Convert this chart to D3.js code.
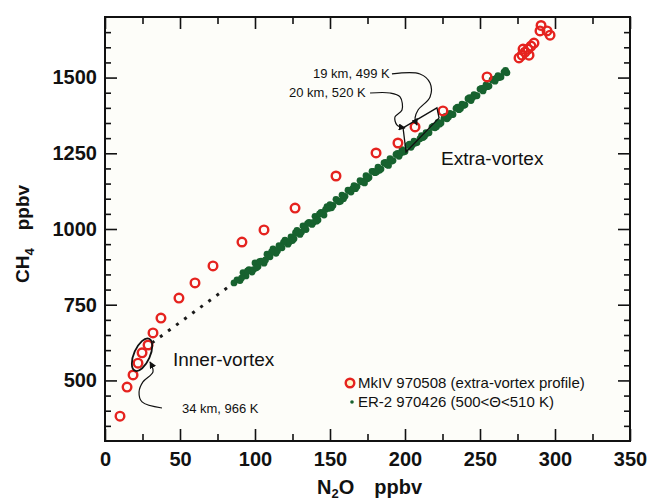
<!DOCTYPE html>
<html>
<head>
<meta charset="utf-8">
<script src="https://cdn.jsdelivr.net/npm/d3@7"></script>
<style>
  body { margin: 0; background: #fff; }
  text { font-family: "Liberation Sans", Arial, sans-serif; fill: #111; }
</style>
</head>
<body>
<div id="chart"></div>
<script>
// ---------------- data ----------------
// MkIV 970508 balloon profile [N2O, CH4] (ppbv)
const mkivN2O = [10, 14.7, 18.7, 22, 24.7, 28.7, 32, 37.3, 49.3, 60, 72, 91.3, 106, 126.7, 154, 180.7,
  195.3, 206.7, 225.3, 254.7, 276, 278, 280, 282, 284, 286, 278.7, 282.7, 290, 294.7, 296.7, 290.7];
const mkivCH4 = [382, 478, 518, 557, 591, 617, 657, 706, 772, 822, 878, 957, 997, 1069, 1175, 1251,
  1284, 1337, 1390, 1502, 1565, 1574, 1584, 1594, 1604, 1614, 1594, 1574, 1654, 1654, 1640, 1672];

// ER-2 970426, 500 < theta < 510 K
const er2N2O = [86, 88, 90, 92, 94, 96, 98, 100, 102, 104, 106, 108, 110, 112, 114, 116, 118, 120,
  122, 124, 126, 128, 130, 132, 134, 136, 138, 140, 142, 144, 146, 148, 150, 152, 154, 156, 158,
  160, 162, 164, 166, 168, 170, 172, 174, 176, 178, 180, 182, 184, 186, 188, 190, 192, 194, 196,
  198, 200, 202, 204, 206, 208, 210, 212, 214, 216, 218, 220, 222, 224, 226, 228, 230, 232, 234,
  236, 238, 240, 242, 244, 246, 248, 250, 252, 254, 256, 258, 260, 262, 264, 266, 268,
  91, 95, 99, 103, 107, 111, 115, 119, 123, 127, 131, 135, 139, 143, 147, 151, 155, 159, 163,
  167, 171, 175, 179, 183, 187, 191, 195, 199, 203, 207, 211, 215, 219, 223, 227, 231, 235, 239,
  243, 247, 251, 255, 259, 263, 267,
  101, 109, 117, 125, 133, 141, 149, 157, 165, 173, 181, 189, 197, 205, 213, 221, 229, 237, 245,
  253, 261];
const er2CH4 = [822, 832, 830, 856, 845, 866, 858, 888, 876, 894, 887, 917, 908, 934, 920, 945, 938, 963,
  950, 974, 968, 995, 982, 1010, 998, 1022, 1015, 1042, 1030, 1055, 1046, 1074, 1080, 1078, 1098, 1090, 1112,
  1108, 1128, 1122, 1143, 1140, 1160, 1158, 1176, 1170, 1190, 1186, 1204, 1198, 1218, 1212, 1232, 1226, 1246, 1240,
  1262, 1256, 1276, 1270, 1290, 1286, 1298, 1302, 1318, 1318, 1336, 1334, 1352, 1350, 1366, 1364, 1382, 1378, 1398,
  1394, 1412, 1410, 1430, 1424, 1444, 1440, 1462, 1456, 1476, 1472, 1492, 1488, 1506, 1502, 1518, 1516,
  838, 862, 866, 892, 898, 924, 928, 956, 958, 988, 990, 1018, 1022, 1050, 1064, 1070, 1094, 1100, 1126,
  1133, 1156, 1166, 1190, 1194, 1220, 1224, 1250, 1254, 1280, 1284, 1308, 1316, 1340, 1346, 1372, 1378, 1402, 1408,
  1434, 1440, 1464, 1470, 1494, 1500, 1524,
  872, 911, 942, 962, 1004, 1026, 1068, 1092, 1132, 1152, 1188, 1210, 1250, 1278, 1306, 1338, 1370, 1398, 1434,
  1466, 1498];

const xMajor = [0, 50, 100, 150, 200, 250, 300, 350];
const xMinor = [25, 75, 125, 175, 225, 275, 325];
const yMajor = [500, 750, 1000, 1250, 1500];
const yMinor = [350, 400, 450, 550, 600, 650, 700, 800, 850, 900, 950, 1050, 1100, 1150, 1200,
  1300, 1350, 1400, 1450, 1550, 1600, 1650];

const legendLabels = ["MkIV 970508 (extra-vortex profile)", "ER-2 970426 (500<\u0398<510 K)"];

// annotation geometry, in data units
const dottedN2O = [31.3, 85.3];
const dottedCH4 = [624, 820];
const innerCurve = [[30, 561], [32, 528], [25.3, 495], [22.7, 462], [24.7, 429], [38, 409]];
const arrow19 = [[191.3, 1512], [210, 1512], [216.7, 1482], [216.7, 1436], [208.7, 1393], [206.7, 1367], [208, 1343]];
const arrow20 = [[176.7, 1449], [190, 1449], [196.7, 1436], [198, 1393], [193.3, 1370], [194.7, 1343], [200, 1334]];
const boxCorners = [[198.7, 1334], [221.3, 1400], [222.7, 1367], [200.7, 1254]];

// ---------------- layout ----------------
const W = 652, H = 502;
const M = { left: 105, right: 22, top: 17, bottom: 61 };
const RED = "#e5231f", GREEN = "#17622f";

const x = d3.scaleLinear().domain([0, 350]).range([M.left, W - M.right]);
const y = d3.scaleLinear().domain([300, 1700]).range([H - M.bottom, M.top]);

const svg = d3.select("#chart").append("svg")
  .attr("width", W).attr("height", H);

const defs = svg.append("defs");
defs.append("marker")
  .attr("id", "head")
  .attr("viewBox", "0 0 10 10")
  .attr("refX", 9).attr("refY", 5)
  .attr("markerWidth", 7).attr("markerHeight", 7)
  .attr("markerUnits", "userSpaceOnUse")
  .attr("orient", "auto-start-reverse")
  .append("path").attr("d", "M0,0 L10,5 L0,10 Z").attr("fill", "#111");
defs.append("clipPath").attr("id", "plotclip")
  .append("rect")
  .attr("x", M.left).attr("y", M.top)
  .attr("width", W - M.left - M.right).attr("height", H - M.top - M.bottom);

svg.append("rect")
  .attr("x", M.left).attr("y", M.top)
  .attr("width", W - M.left - M.right).attr("height", H - M.top - M.bottom)
  .attr("fill", "#fdfdf9");

// ---------------- axes ----------------
function styleAxis(g) {
  g.select(".domain").remove();
  g.selectAll("line").attr("stroke", "#111").attr("stroke-width", 1.6);
  g.selectAll("text").attr("font-size", 20).attr("font-weight", "bold")
    .attr("fill", "#111").attr("font-family", "Liberation Sans, Arial, sans-serif");
}

svg.append("g").attr("transform", `translate(0,${y(300)})`)
  .call(d3.axisBottom(x).tickValues(xMajor).tickSize(-12).tickPadding(11).tickFormat(d3.format("d")))
  .call(styleAxis);
svg.append("g").attr("transform", `translate(0,${y(300)})`)
  .call(d3.axisBottom(x).tickValues(xMinor).tickSize(-7).tickFormat(""))
  .call(styleAxis);
svg.append("g").attr("transform", `translate(0,${y(1700)})`)
  .call(d3.axisTop(x).tickValues(xMajor).tickSize(-12).tickFormat(""))
  .call(styleAxis);
svg.append("g").attr("transform", `translate(0,${y(1700)})`)
  .call(d3.axisTop(x).tickValues(xMinor).tickSize(-7).tickFormat(""))
  .call(styleAxis);

svg.append("g").attr("transform", `translate(${x(0)},0)`)
  .call(d3.axisLeft(y).tickValues(yMajor).tickSize(-12).tickPadding(8).tickFormat(d3.format("d")))
  .call(styleAxis);
svg.append("g").attr("transform", `translate(${x(0)},0)`)
  .call(d3.axisLeft(y).tickValues(yMinor).tickSize(-6).tickFormat(""))
  .call(styleAxis);
svg.append("g").attr("transform", `translate(${x(350)},0)`)
  .call(d3.axisRight(y).tickValues(yMajor).tickSize(-12).tickFormat(""))
  .call(styleAxis);
svg.append("g").attr("transform", `translate(${x(350)},0)`)
  .call(d3.axisRight(y).tickValues(yMinor).tickSize(-6).tickFormat(""))
  .call(styleAxis);

// frame
svg.append("rect")
  .attr("x", M.left).attr("y", M.top)
  .attr("width", W - M.left - M.right).attr("height", H - M.top - M.bottom)
  .attr("fill", "none").attr("stroke", "#111").attr("stroke-width", 2);

// axis titles
const xt = svg.append("text")
  .attr("x", 317).attr("y", 494)
  .attr("font-size", 20).attr("font-weight", "bold");
xt.append("tspan").text("N");
xt.append("tspan").attr("font-size", 13).attr("dy", 4).text("2");
xt.append("tspan").attr("dy", -4).text("O");
xt.append("tspan").attr("dx", 20).text("ppbv");

const yt = svg.append("text")
  .attr("transform", "translate(29,283) rotate(-90)")
  .attr("font-size", 19).attr("font-weight", "bold");
yt.append("tspan").text("CH");
yt.append("tspan").attr("font-size", 13).attr("dy", 5).text("4");
yt.append("tspan").attr("dy", -5).attr("dx", 18).text("ppbv");

// ---------------- marks ----------------
const plot = svg.append("g").attr("clip-path", "url(#plotclip)");

// dotted link between inner-vortex and ER-2 band
plot.append("line")
  .attr("x1", x(dottedN2O[0])).attr("y1", y(dottedCH4[0]))
  .attr("x2", x(dottedN2O[1])).attr("y2", y(dottedCH4[1]))
  .attr("stroke", "#1a1a1a").attr("stroke-width", 3)
  .attr("stroke-dasharray", "3,7");

// ER-2 points
plot.append("g")
  .selectAll("circle")
  .data(d3.range(er2N2O.length))
  .join("circle")
  .attr("cx", i => x(er2N2O[i]))
  .attr("cy", i => y(er2CH4[i]))
  .attr("r", 3.4)
  .attr("fill", GREEN);

// MkIV points
plot.append("g")
  .selectAll("circle")
  .data(d3.range(mkivN2O.length))
  .join("circle")
  .attr("cx", i => x(mkivN2O[i]))
  .attr("cy", i => y(mkivCH4[i]))
  .attr("r", 4.3)
  .attr("fill", "none")
  .attr("stroke", RED)
  .attr("stroke-width", 2.4);

// ---------------- annotations ----------------
const curve = d3.line().x(d => x(d[0])).y(d => y(d[1])).curve(d3.curveCatmullRom.alpha(0.5));

// inner-vortex ellipse
svg.append("ellipse")
  .attr("transform", `translate(${x(24.7)},${y(585)}) rotate(24)`)
  .attr("rx", 8).attr("ry", 17.5)
  .attr("fill", "none").attr("stroke", "#111").attr("stroke-width", 1.8);

svg.append("path")
  .attr("d", curve(innerCurve))
  .attr("fill", "none").attr("stroke", "#111").attr("stroke-width", 1.2)
  .attr("marker-start", "url(#head)");

svg.append("text")
  .attr("x", x(51.3)).attr("y", y(393))
  .attr("font-size", 13).text("34 km, 966 K");

svg.append("text")
  .attr("x", x(45.3)).attr("y", y(548))
  .attr("font-size", 19).text("Inner-vortex");

// extra-vortex box and arrows
svg.append("path")
  .attr("d", d3.line().x(d => x(d[0])).y(d => y(d[1]))(boxCorners) + "Z")
  .attr("fill", "none").attr("stroke", "#111").attr("stroke-width", 1.3);

[arrow19, arrow20].forEach(a => {
  svg.append("path")
    .attr("d", curve(a))
    .attr("fill", "none").attr("stroke", "#111").attr("stroke-width", 1.2)
    .attr("marker-end", "url(#head)");
});

svg.append("text")
  .attr("x", x(138.7)).attr("y", y(1499))
  .attr("font-size", 13).text("19 km, 499 K");
svg.append("text")
  .attr("x", x(122.7)).attr("y", y(1436))
  .attr("font-size", 13).text("20 km, 520 K");

svg.append("text")
  .attr("x", x(224)).attr("y", y(1211))
  .attr("font-size", 19).text("Extra-vortex");

// ---------------- legend ----------------
const leg = svg.append("g").attr("transform", "translate(350,383)");
leg.append("circle").attr("cx", 0).attr("cy", 0).attr("r", 4.3)
  .attr("fill", "#fff6c8").attr("stroke", RED).attr("stroke-width", 2.4);
leg.append("circle").attr("cx", 2).attr("cy", 19).attr("r", 1.8).attr("fill", GREEN);
leg.selectAll("text.lbl")
  .data(legendLabels)
  .join("text")
  .attr("class", "lbl")
  .attr("x", 8)
  .attr("y", (d, i) => 5 + i * 19)
  .attr("font-size", 15)
  .text(d => d);
</script>
</body>
</html>
